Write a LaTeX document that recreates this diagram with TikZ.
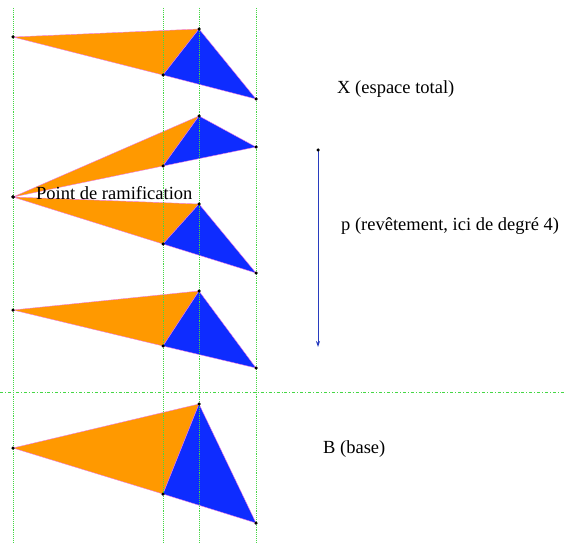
\documentclass[tikz,border=0pt]{standalone}
\usepackage{fontspec}
\setmainfont{Liberation Serif}
\usetikzlibrary{arrows.meta}
\definecolor{gguide}{RGB}{70,215,70}
\definecolor{orfill}{RGB}{255,153,0}
\definecolor{blfill}{RGB}{14,44,255}
\definecolor{edgepink}{RGB}{240,120,230}
\definecolor{arrblue}{RGB}{40,60,190}
\tikzset{
  guide/.style={gguide, densely dotted, line width=0.9pt},
  orangetri/.style={fill=orfill, draw=edgepink, line width=0.4pt},
  bluetri/.style={fill=blfill, draw=edgepink, line width=0.4pt},
  vdot/.style={circle, fill=black, inner sep=0pt, minimum size=3.5pt},
  lbl/.style={font=\fontsize{18.5}{21}\selectfont, inner sep=0pt, anchor=base west}
}
\begin{document}
\begin{tikzpicture}[x=1pt,y=-1pt]
\useasboundingbox (0,0) rectangle (566,543);
% sheets
\foreach \n/\ay/\by/\cy/\dy in {s1/37/75/29/99, s2/197/166/116/147, s3/197/244/204/273, s4/310/346/291/368, b/448/494/404/523}{
  \coordinate (\n a) at (13,\ay);
  \coordinate (\n b) at (163,\by);
  \coordinate (\n c) at (199,\cy);
  \coordinate (\n d) at (256,\dy);
  \path[orangetri] (\n a) -- (\n b) -- (\n c) -- cycle;
  \path[bluetri] (\n b) -- (\n c) -- (\n d) -- cycle;
}
% guides
\coordinate (g1t) at (13,8);   \coordinate (g1b) at (13,543);
\coordinate (g2t) at (163,8);  \coordinate (g2b) at (163,543);
\coordinate (g3t) at (199,8);  \coordinate (g3b) at (199,543);
\coordinate (g4t) at (256,8);  \coordinate (g4b) at (256,543);
\coordinate (hl) at (0,392);   \coordinate (hr) at (566,392);
\draw[guide] (g1t) -- (g1b);
\draw[guide] (g2t) -- (g2b);
\draw[guide] (g3t) -- (g3b);
\draw[guide] (g4t) -- (g4b);
\draw[guide, dash dot] (hl) -- (hr);
% vertices
\foreach \n in {s1,s2,s3,s4,b}{
  \foreach \v in {a,b,c,d}{ \node[vdot] at (\n\v) {}; }
}
% projection arrow
\coordinate (pt) at (318,150);
\coordinate (pb) at (318,347);
\draw[arrblue, line width=0.8pt, -{Stealth[length=6pt,width=4pt]}] (pt) -- (pb);
\node[vdot] at (pt) {};
% labels
\node[lbl] (lx) at (337,94) {X (espace total)};
\node[lbl] (lp) at (341,230) {p (revêtement, ici de degré 4)};
\node[lbl] (lb) at (323,453) {B (base)};
\node[lbl] (lr) at (36,200) {Point de ramification};
\end{tikzpicture}
\end{document}
